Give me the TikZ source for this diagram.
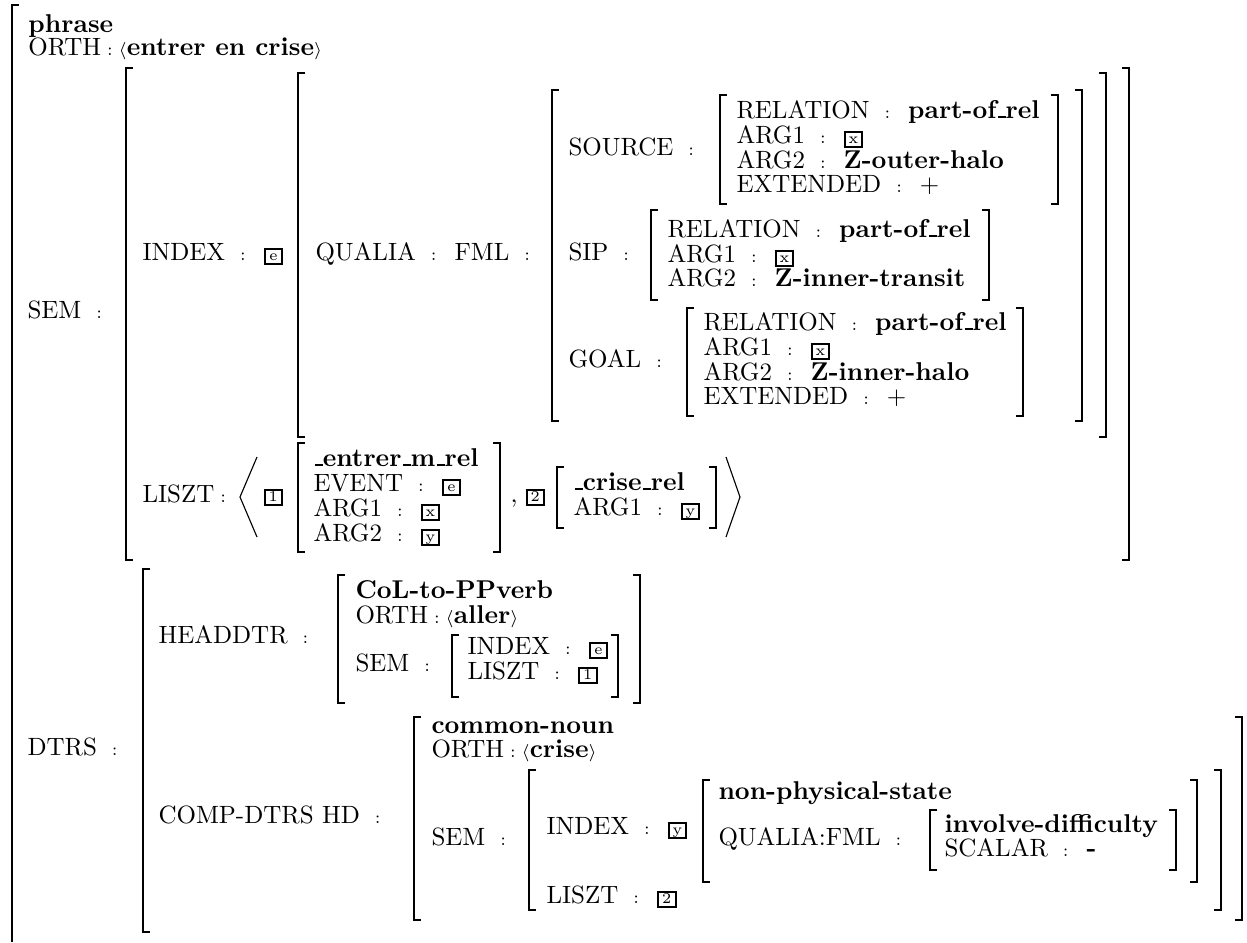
\documentclass[tikz,border=0pt]{standalone}
\newcommand\cl{\hspace{6pt}{\scriptsize:}\hspace{7.2pt}}
\newcommand\oc{\hspace{2.4pt}{\scriptsize:}\hspace{2.4pt}}
\newcommand\bv[1]{{\fontsize{10.3}{10}\selectfont\bfseries #1}}
\newcommand\us{\kern.06em\rule{.3em}{0.7pt}}
\newcommand\Lan{{\scriptsize$\langle$}}
\newcommand\Ran{{\scriptsize$\rangle$}}
\newcommand\tg[1]{\raisebox{-1.2pt}{\setlength\fboxsep{0pt}\setlength\fboxrule{0.8pt}\fbox{\makebox[6.2pt]{\rule{0pt}{5.3pt}\raisebox{1.1pt}{\fontsize{6}{6}\selectfont #1}}}}}
\tikzset{
  txt/.style={anchor=base west, inner sep=0pt, font=\fontsize{10}{9.9}\selectfont},
  brk/.style={line width=0.8pt, line join=miter},
  ang/.style={line width=0.45pt},
}
\newcommand\LBr[3]{\draw[brk] (#1+7,#2) -- (#1,#2) -- (#1,#3) -- (#1+7,#3);}
\newcommand\RBr[3]{\draw[brk] (#1-7,#2) -- (#1,#2) -- (#1,#3) -- (#1-7,#3);}
\newcommand\AVM[4]{\LBr{#1}{#3}{#4}\RBr{#2}{#3}{#4}}
\begin{document}
\begin{tikzpicture}[x=0.4pt,y=-0.4pt]
\useasboundingbox (0,0) rectangle (1247,942);
% outer
\draw[brk] (19,5) -- (12,5) -- (12,942);
\node[txt] (phr) at (28,32) {\bv{phrase}};
\node[txt] (orth) at (28,55) {ORTH\oc\Lan\bv{entrer en crise}\Ran};
% SEM
\node[txt] (sem) at (27,318) {SEM\cl};
\AVM{126}{1129}{68}{560}
\node[txt] (idx) at (142,260) {INDEX\cl\tg{e}};
\AVM{298}{1106}{73}{437}
\node[txt] (qua) at (315,260) {QUALIA\cl FML\cl};
\AVM{552}{1082}{90}{421}
\node[txt] (src) at (568,155) {SOURCE\cl};
\AVM{720}{1058}{95}{204}
\node[txt] (s1) at (736,118) {RELATION\cl\bv{part-of\us rel}};
\node[txt] (s2) at (736,143) {ARG1\cl\tg{x}};
\node[txt] (s3) at (736,168) {ARG2\cl\bv{Z-outer-halo}};
\node[txt] (s4) at (736,192) {EXTENDED\cl+};
\node[txt] (sip) at (568,260) {SIP\cl};
\AVM{651}{989}{210}{300}
\node[txt] (p1) at (667,237) {RELATION\cl\bv{part-of\us rel}};
\node[txt] (p2) at (667,262) {ARG1\cl\tg{x}};
\node[txt] (p3) at (667,286) {ARG2\cl\bv{Z-inner-transit}};
\node[txt] (goal) at (568,367) {GOAL\cl};
\AVM{687}{1023}{308}{416}
\node[txt] (g1) at (703,330) {RELATION\cl\bv{part-of\us rel}};
\node[txt] (g2) at (703,355) {ARG1\cl\tg{x}};
\node[txt] (g3) at (703,380) {ARG2\cl\bv{Z-inner-halo}};
\node[txt] (g4) at (703,404) {EXTENDED\cl+};
% LISZT
\node[txt] (lz) at (142,502) {LISZT\oc};
\draw[ang] (257,457) -- (240,497) -- (257,537);
\node[txt] (t1) at (263,501) {\tg{1}};
\AVM{298}{500}{443}{552}
\node[txt] (e1) at (313,466) {\bv{\us entrer\us m\us rel}};
\node[txt] (e2) at (313,491) {EVENT\cl\tg{e}};
\node[txt] (e3) at (313,516) {ARG1\cl\tg{x}};
\node[txt] (e4) at (313,541) {ARG2\cl\tg{y}};
\node[txt] (cm) at (510,502) {,};
\node[txt] (t2) at (525,501) {\tg{2}};
\AVM{557}{716}{467}{528}
\node[txt] (c1) at (573,490) {\bv{\us crise\us rel}};
\node[txt] (c2) at (573,515) {ARG1\cl\tg{y}};
\draw[ang] (726,457) -- (740,497) -- (726,537);
% DTRS
\node[txt] (dtrs) at (27,755) {DTRS\cl};
\LBr{143}{569}{932}
\node[txt] (hd) at (158,643) {HEADDTR\cl};
\AVM{338}{640}{575}{703}
\node[txt] (h1) at (355,598) {\bv{CoL-to-PPverb}};
\node[txt] (h2) at (355,623) {ORTH\oc\Lan\bv{aller}\Ran};
\node[txt] (h3) at (355,671) {SEM\cl};
\AVM{452}{618}{635}{697}
\node[txt] (h4) at (467,654) {INDEX\cl\tg{e}};
\node[txt] (h5) at (467,679) {LISZT\cl\tg{1}};
\node[txt] (cd) at (158,823) {COMP-DTRS HD\cl};
\AVM{414}{1242}{717}{920}
\node[txt] (k1) at (431,733) {\bv{common-noun}};
\node[txt] (k2) at (431,757) {ORTH\oc\Lan\bv{crise}\Ran};
\node[txt] (k3) at (431,845) {SEM\cl};
\AVM{529}{1221}{770}{910}
\node[txt] (k4) at (546,834) {INDEX\cl\tg{y}};
\node[txt] (k5) at (546,903) {LISZT\cl\tg{2}};
\AVM{703}{1197}{780}{882}
\node[txt] (k6) at (718,799) {\bv{non-physical-state}};
\node[txt] (k7) at (718,845) {QUALIA:FML\cl};
\AVM{930}{1176}{810}{870}
\node[txt] (k8) at (944,832) {\bv{involve-difficulty}};
\node[txt] (k9) at (944,856) {SCALAR\cl\bv{-}};
\end{tikzpicture}
\end{document}
